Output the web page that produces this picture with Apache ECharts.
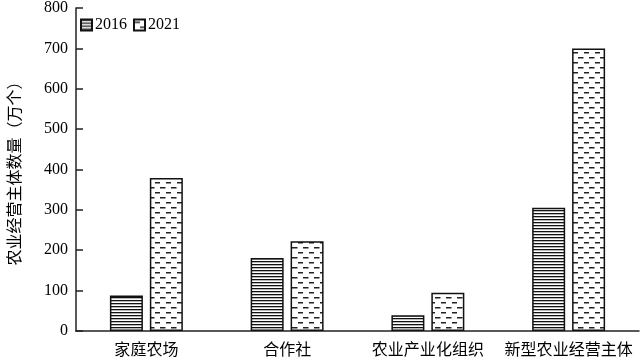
<!DOCTYPE html>
<html><head><meta charset="utf-8">
<script src="https://cdn.jsdelivr.net/npm/echarts@6/dist/echarts.min.js"></script>
<style>html,body{margin:0;padding:0;background:#fff}#c{width:640px;height:359px}</style>
</head><body><div id="c"></div>
<script>
const categories = ['家庭农场', '合作社', '农业产业化组织', '新型农业经营主体'];
const values2016 = [88, 181, 39, 305];
const values2021 = [379, 222, 95, 700];
const seriesNames = ['2016', '2021'];

function stripePattern() {
  const c = document.createElement('canvas');
  c.width = 8; c.height = 3;
  const g = c.getContext('2d');
  g.fillStyle = '#fff'; g.fillRect(0, 0, 8, 3);
  g.fillStyle = '#111'; g.fillRect(0, 0, 8, 1.3);
  return c;
}
function dashPattern() {
  const c = document.createElement('canvas');
  c.width = 11; c.height = 10;
  const g = c.getContext('2d');
  g.fillStyle = '#fff'; g.fillRect(0, 0, 11, 10);
  g.fillStyle = '#222';
  g.fillRect(1, 2, 5, 1.5);
  g.fillRect(6, 7, 5, 1.5);
  g.fillRect(0, 7, 0.5, 1.5);
  return c;
}
const font = '"Liberation Serif", "Noto Sans CJK SC", serif';
const chart = echarts.init(document.getElementById('c'), null, {renderer: 'canvas'});
chart.setOption({
  animation: false,
  grid: {left: 71, right: 1, top: 5, bottom: 27},
  legend: {
    left: 75, top: 12, itemWidth: 11, itemHeight: 11, itemGap: 6, icon: 'rect',
    textStyle: {fontFamily: font, fontSize: 16, color: '#000', padding: [0, 0, 0, -2]},
    data: seriesNames
  },
  xAxis: {
    type: 'category', data: categories,
    axisLine: {lineStyle: {color: '#222', width: 1.5}},
    axisTick: {show: false},
    axisLabel: {fontFamily: font, fontSize: 16, color: '#000', margin: 12, interval: 0}
  },
  yAxis: {
    type: 'value', min: 0, max: 800, interval: 100,
    name: '农业经营主体数量（万个）', nameLocation: 'middle', nameGap: 52,
    nameTextStyle: {fontFamily: font, fontSize: 16, color: '#000'},
    axisLine: {show: true, lineStyle: {color: '#222', width: 1.5}},
    axisTick: {show: true, inside: true, length: 7, lineStyle: {color: '#222', width: 1.5}},
    splitLine: {show: false},
    axisLabel: {fontFamily: font, fontSize: 16, color: '#000', margin: 8}
  },
  series: [
    {name: seriesNames[0], type: 'bar', data: values2016, barWidth: 33, barGap: '21%',
     itemStyle: {color: {image: stripePattern(), repeat: 'repeat'}, borderColor: '#111', borderWidth: 1.5}},
    {name: seriesNames[1], type: 'bar', data: values2021, barWidth: 33, barGap: '21%',
     itemStyle: {color: {image: dashPattern(), repeat: 'repeat'}, borderColor: '#111', borderWidth: 1.5}}
  ]
});
</script></body></html>
